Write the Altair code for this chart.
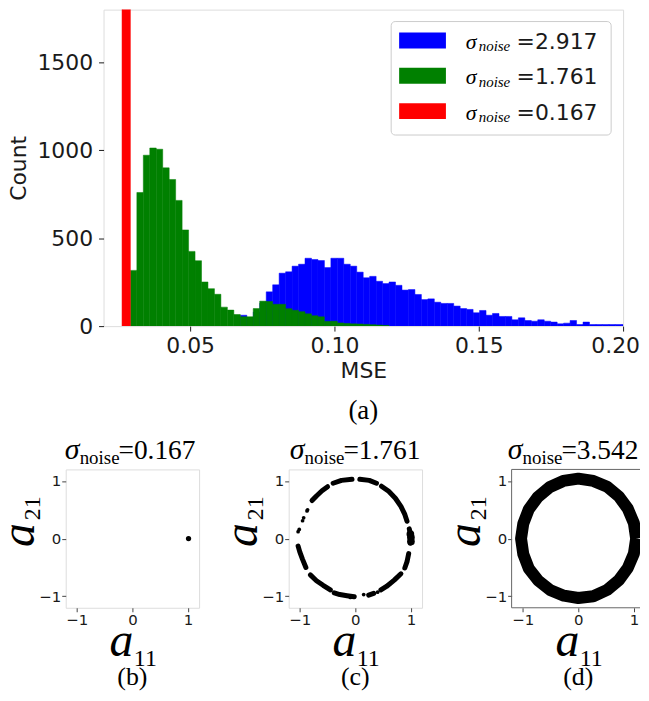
import altair as alt
import pandas as pd

# ---------------- data ----------------
bin_width = 0.00224
green_start = 0.0293
green_counts = [317, 760, 972, 1013, 1006, 900, 834, 715, 547, 425,
                372, 251, 213, 181, 108, 91, 66, 53, 53, 100,
                142, 140, 124, 124, 99, 90, 82, 70, 59, 53,
                27, 28, 18, 15, 13, 12, 10, 8, 6, 4]
blue_start = 0.0674
blue_counts = [62, 48, 80, 130, 195, 235, 301, 309, 341, 352,
               386, 379, 373, 333, 386, 386, 352, 341, 307, 275,
               283, 255, 242, 251, 232, 205, 208, 180, 151, 155,
               136, 129, 129, 114, 100, 95, 76, 89, 62, 72,
               55, 55, 36, 47, 32, 28, 36, 28, 23, 13,
               17, 32, 9, 23, 9, 9, 9, 9, 9, 9]
red_edges = [0.0264, 0.0293]
red_count = 10000

legend_sigmas = ["2.917", "1.761", "0.167"]
legend_colors = ["#0000ff", "#008000", "#ff0000"]
x_ticks_main = [0.05, 0.10, 0.15, 0.20]
y_ticks_main = [0, 500, 1000, 1500]

panel_sigmas = ["0.167", "1.761", "3.542"]
panel_letters = ["(b)", "(c)", "(d)"]
panel_ticks = [-1, 0, 1]

# (b): a single cluster
b_a11 = [1.01]
b_a21 = [0.0]

# (c): arc segments of the ring
c_seg = (["A"] * 4 + ["B"] * 3 + ["C"] * 3 + ["D"] * 6 + ["E"] * 3 + ["F"] * 3
         + ["G"] * 4 + ["H"] * 2 + ["I"] * 4 + ["J"] * 4 + ["K"] * 4)
c_a11 = [-0.78, -0.70, -0.60, -0.50,
         -0.40, -0.25, -0.06,
         0.08, 0.25, 0.38,
         0.47, 0.60, 0.72, 0.82, 0.89, 0.93,
         0.97, 1.00, 0.99,
         0.96, 0.93, 0.89,
         0.82, 0.70, 0.56, 0.46,
         0.33, 0.24,
         -0.02, -0.15, -0.28, -0.38,
         -0.45, -0.58, -0.70, -0.81,
         -0.89, -0.95, -1.00, -1.03]
c_a21 = [0.66, 0.74, 0.83, 0.90,
         0.96, 1.01, 1.03,
         1.03, 1.01, 0.96,
         0.91, 0.82, 0.70, 0.56, 0.42, 0.30,
         0.17, 0.04, -0.08,
         -0.26, -0.40, -0.51,
         -0.61, -0.72, -0.83, -0.89,
         -0.95, -0.98,
         -1.01, -0.99, -0.97, -0.94,
         -0.89, -0.81, -0.73, -0.63,
         -0.50, -0.36, -0.23, -0.13]
c_dot_a11 = [-1.03, -1.01, -0.95, -0.93, -0.87, -0.86, 0.15, 0.40, -0.09]
c_dot_a21 = [0.12, 0.16, 0.31, 0.36, 0.48, 0.50, -0.97, -0.93, -1.02]
c_blob_a11 = [1.00, 1.00, 0.99]
c_blob_a21 = [0.02, -0.05, 0.08]

# (d): the full ring
d_a11 = [1.04, 1.00, 0.89, 0.73, 0.52, 0.27, 0.00, -0.27, -0.52, -0.73, -0.89, -0.99,
         -1.03, -0.99, -0.89, -0.72, -0.51, -0.26, 0.00, 0.27, 0.52, 0.73, 0.89, 1.00, 1.04]
d_a21 = [0.00, 0.27, 0.52, 0.73, 0.90, 1.00, 1.04, 1.00, 0.89, 0.72, 0.51, 0.26,
         0.00, -0.27, -0.52, -0.73, -0.89, -0.99, -1.03, -1.00, -0.89, -0.72, -0.51, -0.26, 0.00]

# ---------------- helpers ----------------
one = pd.DataFrame({"k": [0]})
INK = "#1a1a1a"
FRAME = "#666666"


def label(text, x, y, size, font="Liberation Serif", style="normal",
          align="left", angle=0, color="#000000"):
    return alt.Chart(one).mark_text(
        text=text, fontSize=size, font=font, fontStyle=style, align=align,
        baseline="alphabetic", angle=angle, color=color
    ).encode(x=alt.value(x), y=alt.value(y))


def hist_df(start, counts):
    return pd.DataFrame({
        "x0": [start + i * bin_width for i in range(len(counts))],
        "x1": [start + (i + 1) * bin_width for i in range(len(counts))],
        "count": counts,
    })


xs_main = alt.Scale(domain=[0.02, 0.20], nice=False, zero=False)
ys_main = alt.Scale(domain=[0, 1800], nice=False)
x_axis_main = alt.Axis(values=x_ticks_main, format=".2f", labelFontSize=22,
                       labelFont="DejaVu Sans", labelColor=INK, tickColor=INK,
                       tickSize=5, labelPadding=5, domain=False, grid=False,
                       labelFlush=False,
                       labelOffset={"condition": {"test": "datum.value >= 0.199", "value": -8},
                                    "value": 0},
                       title="MSE", titleFontSize=22,
                       titleFont="DejaVu Sans", titleFontWeight="normal",
                       titleColor=INK, titlePadding=4)
y_axis_main = alt.Axis(values=y_ticks_main, format="d", labelFontSize=22,
                       labelFont="DejaVu Sans", labelColor=INK, tickColor=INK,
                       tickSize=5, labelPadding=6, domain=False, grid=False,
                       title="Count", titleFontSize=22, titleFont="DejaVu Sans",
                       titleFontWeight="normal", titleColor=INK, titlePadding=6)


def hist_layer(df, color):
    return alt.Chart(df).mark_rect(clip=True, color=color, stroke=color,
                                   strokeWidth=0.5).encode(
        x=alt.X("x0:Q", scale=xs_main, axis=x_axis_main),
        x2="x1:Q",
        y=alt.Y("count:Q", scale=ys_main, axis=y_axis_main),
        y2=alt.datum(0),
    )


blue = hist_layer(hist_df(blue_start, blue_counts), legend_colors[0])
green = hist_layer(hist_df(green_start, green_counts), legend_colors[1])
red_df = pd.DataFrame({"x0": [red_edges[0]], "x1": [red_edges[1]], "count": [red_count]})
red = hist_layer(red_df, legend_colors[2])

legend_layers = [
    alt.Chart(one).mark_rect(fill="white", stroke="#cccccc", strokeWidth=1,
                             cornerRadius=4).encode(
        x=alt.value(289), x2=alt.value(510), y=alt.value(12), y2=alt.value(126))
]
for i, (sig, col) in enumerate(zip(legend_sigmas, legend_colors)):
    base = 39.5 + 35.5 * i
    legend_layers.append(
        alt.Chart(one).mark_rect(color=col).encode(
            x=alt.value(297), x2=alt.value(344),
            y=alt.value(base - 16.5), y2=alt.value(base - 0.5)))
    legend_layers.append(label("σ", 364, base, 22, style="italic"))
    legend_layers.append(label("noise", 377, base + 2.5, 15, style="italic"))
    legend_layers.append(label("=" + sig, 415, base, 22, font="DejaVu Sans", color=INK))

main = alt.layer(
    blue, green, red, *legend_layers,
    label("(a)", 261, 411, 27, align="center"),
).properties(width=522, height=318)

spacer = alt.Chart(one).mark_point(opacity=0).properties(
    width=28, height=318, view=alt.ViewBackground(stroke="transparent"))

# ---------------- small panels ----------------
PW, PH = 134, 139
PW_D = 129
pscale = alt.Scale(domain=[-1.2, 1.2], nice=False, zero=False)
pscale_d = alt.Scale(domain=[-1.2, 1.11], nice=False, zero=False)
title_offsets = [-1, 1, -4]


def pax():
    return alt.Axis(values=panel_ticks, labelFontSize=15, labelFont="DejaVu Sans",
                    labelColor=INK, tickColor="#444444", tickSize=4, labelPadding=1,
                    domain=False, grid=False, title=None)


def enc(chart, xscale=pscale):
    return chart.encode(
        x=alt.X("a11:Q", scale=xscale, axis=pax()),
        y=alt.Y("a21:Q", scale=pscale, axis=pax()),
    )


def decorations(i):
    L = title_offsets[i]
    return [
        label("σ", L, -10, 30, style="italic"),
        label("noise", L + 15, -5, 19),
        label("=" + panel_sigmas[i], L + 54, -10, 27.5),
        label("a", -32, 66, 48, style="italic", align="center", angle=270),
        label("21", -26, 39, 24, align="center", angle=270),
        label("a", 56, 187, 48, style="italic", align="center"),
        label("11", 80, 197, 24, align="center"),
        label(panel_letters[i], PW / 2, 217, 26, align="center"),
    ]


b_df = pd.DataFrame({"a11": b_a11, "a21": b_a21})
pb = alt.layer(
    enc(alt.Chart(b_df).mark_circle(size=28, color="black", opacity=1)),
    *decorations(0),
).properties(width=PW, height=PH)

c_df = pd.DataFrame({"seg": c_seg, "a11": c_a11, "a21": c_a21})
c_df["i"] = c_df.groupby("seg").cumcount()
c_lines = enc(alt.Chart(c_df).mark_line(color="black", strokeWidth=5,
                                        strokeCap="round", strokeJoin="round",
                                        clip=True)).encode(
    detail="seg:N", order="i:Q")
c_dots = enc(alt.Chart(pd.DataFrame({"a11": c_dot_a11, "a21": c_dot_a21}))
             .mark_circle(size=14, color="black", opacity=1))
c_blob = enc(alt.Chart(pd.DataFrame({"a11": c_blob_a11, "a21": c_blob_a21}))
             .mark_circle(size=60, color="black", opacity=1))
pc = alt.layer(c_lines, c_dots, c_blob, *decorations(1)).properties(width=PW, height=PH)

d_df = pd.DataFrame({"a11": d_a11, "a21": d_a21})
d_df["i"] = range(len(d_df))
d_ring = enc(alt.Chart(d_df).mark_line(color="black", strokeWidth=12,
                                       strokeJoin="round", clip=True),
             xscale=pscale_d).encode(order="i:Q")
d_frame = [
    alt.Chart(one).mark_rule(color=FRAME, strokeWidth=1).encode(
        x=alt.value(0), x2=alt.value(PW_D), y=alt.value(0)),
    alt.Chart(one).mark_rule(color=FRAME, strokeWidth=1).encode(
        x=alt.value(0), x2=alt.value(PW_D), y=alt.value(PH)),
    alt.Chart(one).mark_rule(color=FRAME, strokeWidth=1).encode(
        x=alt.value(0), y=alt.value(0), y2=alt.value(PH)),
]
pd_chart = alt.layer(d_ring, *d_frame, *decorations(2)).properties(
    width=PW_D, height=PH, view=alt.ViewBackground(stroke="transparent"))

top = alt.hconcat(spacer, main, spacing=10, bounds="flush")
bottom = alt.hconcat(pb, pc, pd_chart, spacing=90, bounds="flush")

chart = alt.vconcat(top, bottom, spacing=10).properties(
    padding={"left": -13, "top": -1, "right": 0, "bottom": 0}
).configure_view(stroke=FRAME, strokeWidth=1).configure(font="DejaVu Sans")

chart.save("out.html", embed_options={"renderer": "svg", "actions": False})
